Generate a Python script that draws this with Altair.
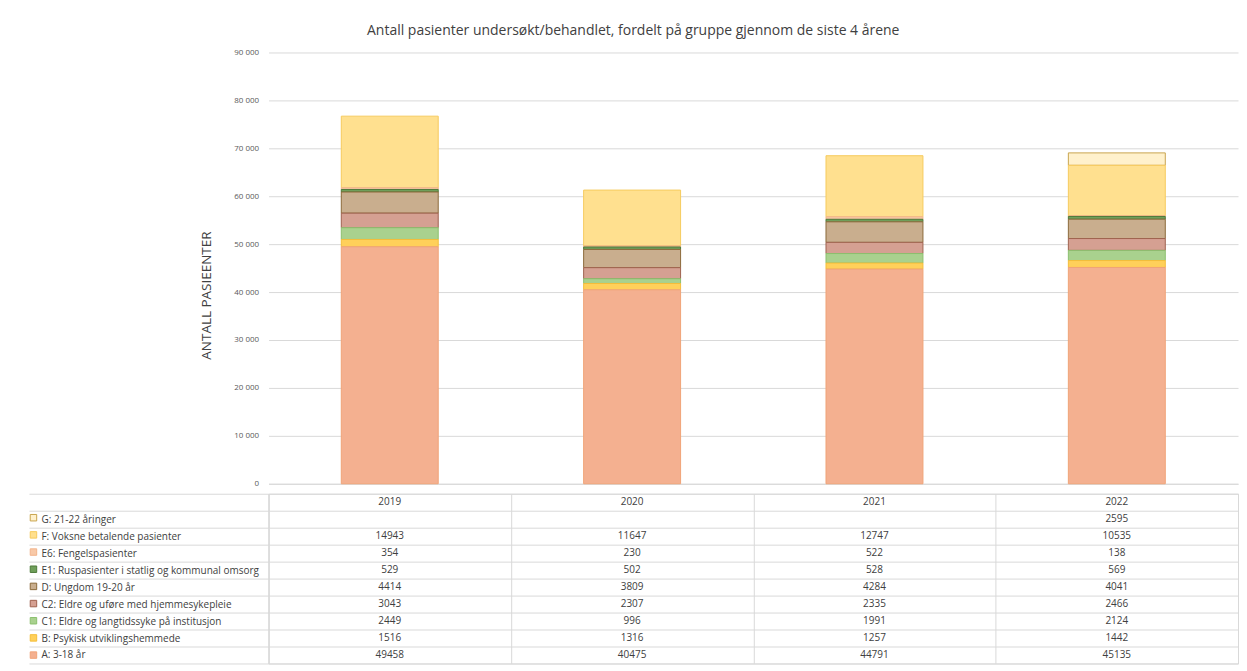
import altair as alt
import pandas as pd

years = ["2019", "2020", "2021", "2022"]
groups = [
    "G: 21-22 åringer",
    "F: Voksne betalende pasienter",
    "E6: Fengelspasienter",
    "E1: Ruspasienter i statlig og kommunal omsorg",
    "D: Ungdom 19-20 år",
    "C2: Eldre og uføre med hjemmesykepleie",
    "C1: Eldre og langtidssyke på institusjon",
    "B: Psykisk utviklingshemmede",
    "A: 3-18 år",
]
g_vals = [None, None, None, 2595]
f_vals = [14943, 11647, 12747, 10535]
e6_vals = [354, 230, 522, 138]
e1_vals = [529, 502, 528, 569]
d_vals = [4414, 3809, 4284, 4041]
c2_vals = [3043, 2307, 2335, 2466]
c1_vals = [2449, 996, 1991, 2124]
b_vals = [1516, 1316, 1257, 1442]
a_vals = [49458, 40475, 44791, 45135]
series = [g_vals, f_vals, e6_vals, e1_vals, d_vals, c2_vals, c1_vals, b_vals, a_vals]

fills = ["#FFF1CC", "#FFE08F", "#F8C9A8", "#6F9F5A", "#C9AE8E",
         "#D5A092", "#A9D18E", "#FFD05A", "#F4B090"]
strokes = ["#C9A54E", "#F6CB5E", "#F2B48C", "#4E7A3A", "#8C6A3A",
           "#A0624F", "#8CC06E", "#F4BE3A", "#F0A477"]

header = " "
rows = [header] + groups

bar_recs = []
tab_recs = []
for y_i, yr in enumerate(years):
    tab_recs.append({"year": yr, "row": header, "txt": yr})
for g_i, (grp, vals) in enumerate(zip(groups, series)):
    for yr, v in zip(years, vals):
        tab_recs.append({"year": yr, "row": grp, "txt": "" if v is None else str(v)})
        if v is not None:
            bar_recs.append({"year": yr, "group": grp, "value": v,
                             "stack": len(groups) - 1 - g_i})
bar_df = pd.DataFrame(bar_recs)
tab_df = pd.DataFrame(tab_recs)

W = 971
FONT = "Open Sans"
TXT = "#404040"
GRID = "#d9d9d9"

xscale = alt.Scale(domain=years, paddingInner=0, paddingOuter=0)

leg = alt.Legend(orient="none", legendX=-239.5, legendY=462, title=None,
                 labelExpr="''", labelFontSize=1, symbolType="square",
                 symbolSize=42, symbolStrokeWidth=1, rowPadding=5.2,
                 direction="vertical", symbolOpacity=1)

bars = alt.Chart(bar_df).mark_bar(width=alt.RelativeBandSize(0.4), strokeWidth=1).encode(
    x=alt.X("year:N", scale=xscale,
            axis=alt.Axis(title=None, labels=False, ticks=False, domain=True,
                          domainColor=GRID, grid=False)),
    y=alt.Y("value:Q", stack="zero",
            scale=alt.Scale(domain=[0, 90000], nice=False),
            axis=alt.Axis(title="ANTALL PASIEENTER", values=list(range(0, 90001, 10000)),
                          labelExpr="replace(format(datum.value, ','), ',', ' ')",
                          labelFontSize=8, labelColor="#595959", labelFont=FONT,
                          labelPadding=10, ticks=False, domain=False,
                          gridColor=GRID, titleFont=FONT, titleFontSize=13.5,
                          titleFontWeight="normal", titleColor=TXT, titlePadding=20,
                          titleY=243)),
    color=alt.Color("group:N", scale=alt.Scale(domain=groups, range=fills), legend=leg),
    stroke=alt.Stroke("group:N", scale=alt.Scale(domain=groups, range=strokes), legend=leg),
    order=alt.Order("stack:Q", sort="ascending"),
).properties(width=W, height=432)

table = alt.Chart(tab_df).mark_text(fontSize=10, color=TXT, font=FONT).encode(
    x=alt.X("year:N", scale=xscale,
            axis=alt.Axis(title=None, labels=False, ticks=False, domain=False,
                          grid=True, tickBand="extent", gridColor=GRID)),
    y=alt.Y("row:N", scale=alt.Scale(domain=rows, paddingInner=0, paddingOuter=0),
            axis=alt.Axis(title=None, ticks=True, tickSize=240, tickBand="extent",
                          tickColor=GRID, grid=True, gridColor=GRID, domain=True,
                          domainColor=GRID, labelAlign="left", labelPadding=-12,
                          labelColor=TXT, labelFontSize=10, labelFont=FONT,
                          labelLimit=0)),
    text="txt:N",
).properties(width=W, height=170, view=alt.ViewBackground(stroke=GRID))

chart = alt.vconcat(bars, table, spacing=0).properties(
    title=alt.TitleParams(
        "Antall pasienter undersøkt/behandlet, fordelt på gruppe gjennom de siste 4 årene",
        fontSize=14, font=FONT, fontWeight="normal", color=TXT, anchor="middle", offset=10),
    padding={"left": 20, "top": 16, "right": 0, "bottom": 0},
).configure_view(stroke=None)

chart.save("out.html", embed_options={"renderer": "svg", "actions": False})
